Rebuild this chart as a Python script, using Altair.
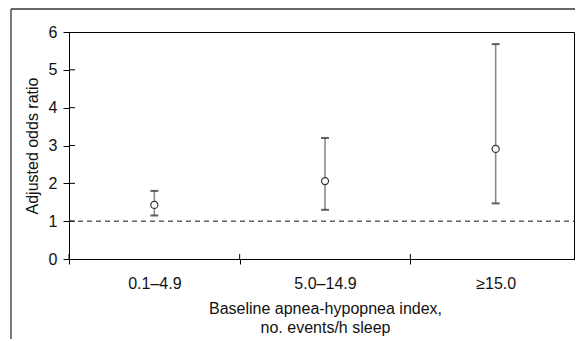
import altair as alt
import pandas as pd

categories = ["0.1–4.9", "5.0–14.9", "≥15.0"]
odds_ratio = [1.43, 2.06, 2.91]
ci_lower = [1.15, 1.30, 1.47]
ci_upper = [1.80, 3.20, 5.68]
y_ticks = [0, 1, 2, 3, 4, 5, 6]
reference_value = [1]
x_title = ["Baseline apnea-hypopnea index,", "no. events/h sleep"]
y_title = "Adjusted odds ratio"

FONT = "Liberation Sans"
FS = 16
W, H = 505, 227
X_RANGE = 512

df = pd.DataFrame({"cat": categories, "or": odds_ratio, "lo": ci_lower, "hi": ci_upper})
ticks_df = pd.DataFrame({"t": y_ticks[1:-1]})
ref_df = pd.DataFrame({"r": reference_value})

x_scale = alt.Scale(domain=categories, paddingInner=0, paddingOuter=0, range=[0, X_RANGE])
y_scale = alt.Scale(domain=[y_ticks[0], y_ticks[-1]], nice=False)

x_axis = alt.Axis(
    title=x_title, tickBand="extent", labelAngle=0, tickSize=5, labelPadding=11,
    titlePadding=9, titleLineHeight=19, titleX=X_RANGE / 2,
)
y_axis = alt.Axis(
    title=y_title, values=y_ticks, tickSize=6, labelPadding=6, titlePadding=8,
)


def X(field="cat:N", **kw):
    return alt.X(field, scale=x_scale, axis=x_axis, **kw)


def Y(field):
    return alt.Y(field, scale=y_scale, axis=y_axis)


ref = alt.Chart(ref_df).mark_rule(color="#111", strokeDash=[5, 4], strokeWidth=1).encode(
    y=Y("r:Q"), x=alt.value(0), x2=alt.value(X_RANGE)
)

whisker = alt.Chart(df).mark_rule(color="#8a8a8a", strokeWidth=1.6).encode(
    x=X(), y=Y("lo:Q"), y2="hi:Q"
)

caps = alt.Chart(df).transform_fold(["lo", "hi"], as_=["k", "v"]).mark_tick(
    color="#222", size=8, thickness=2
).encode(x=X(), y=Y("v:Q"))

points = alt.Chart(df).mark_point(
    shape="circle", filled=True, fill="white", stroke="#333", strokeWidth=1.2, size=50, opacity=1
).encode(x=X(), y=Y("or:Q"))

y_inner_ticks = alt.Chart(ticks_df).mark_rule(color="black", strokeWidth=1).encode(
    y=Y("t:Q"), x=alt.value(0), x2=alt.value(6)
)

x_inner_ticks = alt.Chart(df).mark_rule(color="black", strokeWidth=1).encode(
    x=X(bandPosition=0), y=alt.value(H - 5), y2=alt.value(H)
)

frame_v = alt.Chart(ref_df).mark_rule(color="#333", strokeWidth=1.3).encode(
    x=alt.value(-58), y=alt.value(-23), y2=alt.value(400)
)
frame_h = alt.Chart(ref_df).mark_rule(color="#333", strokeWidth=1.3).encode(
    y=alt.value(-23), x=alt.value(-58), x2=alt.value(700)
)

chart = (
    alt.layer(ref, whisker, caps, y_inner_ticks, x_inner_ticks, points, frame_v, frame_h)
    .properties(
        width=W, height=H,
        autosize=alt.AutoSizeParams(type="none"),
        padding={"left": 61, "top": 24, "right": 1, "bottom": 80},
    )
    .configure_view(stroke="black", strokeWidth=1)
    .configure_axis(
        labelFont=FONT, titleFont=FONT, labelFontSize=FS, titleFontSize=FS,
        titleFontWeight="normal", labelColor="#111", titleColor="#111",
        domainColor="black", tickColor="black", grid=False,
    )
)

chart.save("out.html", embed_options={"renderer": "svg", "actions": False})
